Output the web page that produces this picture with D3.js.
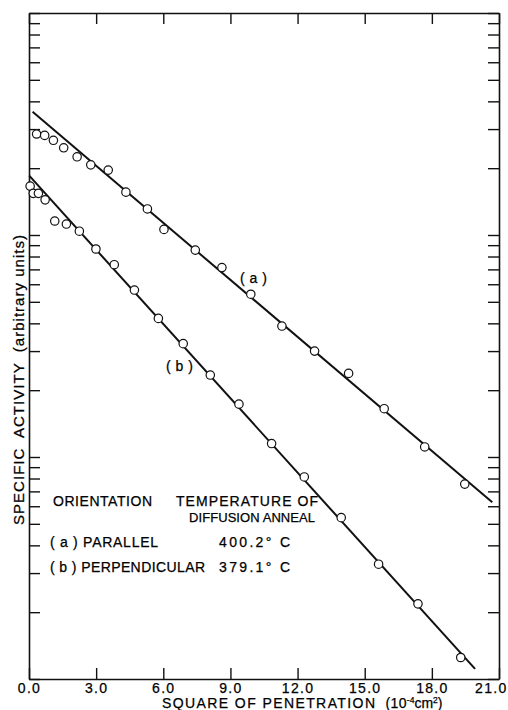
<!DOCTYPE html>
<html>
<head>
<meta charset="utf-8">
<script src="https://d3js.org/d3.v7.min.js"></script>
<style>
  html, body { margin: 0; padding: 0; background: #fff; }
  svg { display: block; font-family: "Liberation Sans", Arial, sans-serif; }
  text { fill: #000; stroke: #000; stroke-width: 0.25px; }
</style>
</head>
<body>
<svg id="chart" width="508" height="710"></svg>
<script>
// --- Data ---
// x = square of penetration (10^-4 cm^2), y = specific activity (arbitrary units)
const xA = [0.34, 0.70, 1.09, 1.55, 2.15, 2.76, 3.54, 4.33, 5.29, 6.03, 7.43, 8.62, 9.91, 11.30, 12.76, 14.28, 15.87, 17.68, 19.47];
const yA = [2.85, 2.81, 2.67, 2.47, 2.25, 2.07, 1.96, 1.56, 1.31, 1.06, 0.855, 0.713, 0.541, 0.389, 0.300, 0.238, 0.165, 0.111, 0.0755];

const xB = [0.05, 0.19, 0.42, 0.72, 1.15, 1.67, 2.25, 2.99, 3.81, 4.71, 5.78, 6.89, 8.10, 9.38, 10.84, 12.30, 13.95, 15.62, 17.38, 19.29];
const yB = [1.66, 1.54, 1.54, 1.44, 1.156, 1.12, 1.04, 0.865, 0.735, 0.565, 0.421, 0.324, 0.234, 0.173, 0.115, 0.0813, 0.0533, 0.0329, 0.0218, 0.0125];

// fitted straight lines (end points)
const fitA = [[0.16, 3.59], [20.70, 0.0625]];
const fitB = [[0.01, 1.85], [19.93, 0.0111]];

const xTicks = [0, 3, 6, 9, 12, 15, 18, 21];
const yTicks = [];
[0.01, 0.1, 1].forEach(d => { for (let m = 1; m <= 9; m++) yTicks.push(+(m * d).toPrecision(2)); });
yTicks.push(10);

// --- Layout ---
const margin = { top: 13, right: 9, bottom: 31, left: 29 };
const width = 508 - margin.left - margin.right;
const height = 710 - margin.top - margin.bottom;

const svg = d3.select("#chart");
const g = svg.append("g").attr("transform", `translate(${margin.left},${margin.top})`);

const x = d3.scaleLinear().domain([0, 21]).range([0, width]);
const y = d3.scaleLog().domain([0.01, 10]).range([height, 0]);

// --- Axes (ticks point inward on all four sides) ---
const tick = 11;
const styleAxis = sel => {
    sel.select(".domain").attr("stroke", "#111").attr("stroke-width", 1.6);
    sel.selectAll(".tick line").attr("stroke", "#111").attr("stroke-width", 1.4);
};

const xBottom = g.append("g")
    .attr("transform", `translate(0,${height})`)
    .call(d3.axisBottom(x).tickValues(xTicks).tickSize(-tick).tickSizeOuter(0)
        .tickPadding(4).tickFormat(d3.format(".1f")))
    .call(styleAxis);
xBottom.selectAll(".tick text")
    .style("font-size", "14px")
    .style("letter-spacing", "1.3px");
xBottom.selectAll(".tick text").filter(d => d === 21)
    .attr("text-anchor", "end").attr("x", 8);

g.append("g")
    .call(d3.axisTop(x).tickValues(xTicks).tickSize(-tick).tickSizeOuter(0).tickFormat(""))
    .call(styleAxis);

g.append("g")
    .call(d3.axisLeft(y).tickValues(yTicks).tickSize(-tick).tickSizeOuter(0).tickFormat(""))
    .call(styleAxis);

g.append("g")
    .attr("transform", `translate(${width},0)`)
    .call(d3.axisRight(y).tickValues(yTicks).tickSize(-tick).tickSizeOuter(0).tickFormat(""))
    .call(styleAxis);

// --- Fitted lines ---
const line = d3.line().x(d => x(d[0])).y(d => y(d[1]));
[fitA, fitB].forEach(f => {
    g.append("path")
        .datum(f)
        .attr("d", line)
        .attr("fill", "none")
        .attr("stroke", "#111")
        .attr("stroke-width", 2);
});

// --- Points (open circles) ---
const drawPoints = (xs, ys) => {
    g.selectAll(null)
        .data(xs.map((v, i) => [v, ys[i]]))
        .enter()
        .append("circle")
        .attr("cx", d => x(d[0]))
        .attr("cy", d => y(d[1]))
        .attr("r", 4.2)
        .attr("fill", "#fff")
        .attr("stroke", "#111")
        .attr("stroke-width", 1.2);
};
drawPoints(xA, yA);
drawPoints(xB, yB);

// fit a text to a target width: spread letters if short, squeeze glyphs if long
const fitWidth = (t, len) => {
    const natural = t.node().getComputedTextLength();
    t.attr("textLength", len)
        .attr("lengthAdjust", natural > len ? "spacingAndGlyphs" : "spacing");
    return t;
};

const addText = (txt, px, py, len, size) => {
    const t = svg.append("text")
        .attr("x", px)
        .attr("y", py)
        .style("font-size", (size || 14) + "px")
        .style("white-space", "pre")
        .text(txt);
    if (len) fitWidth(t, len);
    return t;
};

// --- Curve labels ---
addText("( a )", 240, 283, 27, 14);
addText("( b )", 166, 371, 27, 14);

// --- Legend block ---
addText("ORIENTATION", 53, 506, 99);
addText("TEMPERATURE OF", 176, 506, 142);
addText("DIFFUSION ANNEAL", 189, 522, 126, 13);
addText("( a ) PARALLEL", 50, 547, 108);
addText("400.2° C", 219, 547, 71);
addText("( b ) PERPENDICULAR", 50, 572, 155);
addText("379.1° C", 219, 572, 71);

// --- Axis titles ---
const yt = svg.append("text")
    .attr("transform", "translate(24,380) rotate(-90)")
    .attr("text-anchor", "middle")
    .style("font-size", "15px")
    .style("white-space", "pre")
    .text("SPECIFIC  ACTIVITY  (arbitrary units)");
fitWidth(yt, 290);

const xt = svg.append("text")
    .attr("x", 162)
    .attr("y", 708)
    .style("font-size", "14px")
    .style("white-space", "pre");
const xt1 = xt.append("tspan").text("SQUARE OF PENETRATION");
fitWidth(xt1, 213);
xt.append("tspan").attr("dx", 9).style("letter-spacing", "0.4px").text("(10");
xt.append("tspan").attr("dy", -5).style("font-size", "8.5px").text("-4");
xt.append("tspan").attr("dy", 5).text("cm");
xt.append("tspan").attr("dy", -5).style("font-size", "8.5px").text("2");
xt.append("tspan").attr("dy", 5).text(")");
</script>
</body>
</html>
